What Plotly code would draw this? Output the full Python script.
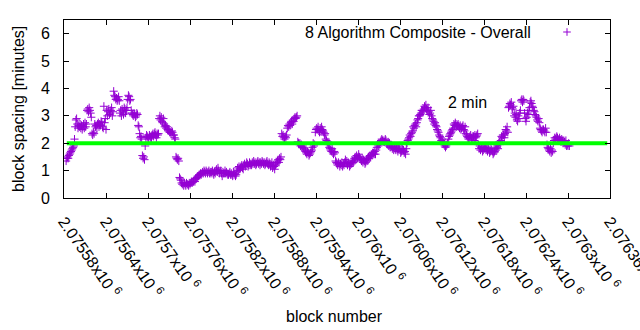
import plotly.graph_objects as go

# ---------------- data ----------------
first_block = 2075583          # one sample per consecutive block
spacing_minutes = [
    1.35, 1.45, 1.5, 1.45, 1.55, 1.6, 1.65, 1.7, 1.75, 1.8, 1.85,
    1.9, 2.15, 2.6, 2.85, 2.9, 2.7, 2.55, 2.65, 2.6, 2.7, 2.55, 2.65, 2.5, 2.6,
    2.7, 2.55, 2.75, 2.6, 2.7, 3.2, 3.25, 3.15, 3.3, 3.2, 3.1, 2.95, 2.35, 2.3, 2.4,
    2.35, 2.7, 2.6, 2.65, 2.55, 2.7, 2.75, 2.6, 2.7, 2.65, 2.8, 2.75, 2.6, 2.55,
    3.35, 2.75, 2.9, 2.5, 3.2, 3.0, 3.15, 3.25, 3.05, 3.1, 3.2, 3.3, 3.0, 3.15,
    3.9, 3.75, 3.7, 3.6, 3.65, 3.55, 3.6, 3.7, 3.55, 3.1, 3.2, 3.0, 3.25, 3.15, 3.05,
    3.3, 3.25, 3.1, 3.2, 3.3, 3.6, 3.75, 3.7, 3.55, 3.6, 3.2, 3.1, 3.05, 3.0,
    3.1, 3.05, 2.95, 3.0, 3.1, 3.05, 2.65, 2.6, 2.35, 2.2, 2.25, 2.15, 1.55, 1.45,
    1.5, 1.4, 1.9, 2.2, 2.3, 2.25, 2.2, 2.15, 2.3, 2.25, 2.2, 2.2, 2.3, 2.35, 2.25,
    2.35, 2.4, 2.3, 2.2, 2.35, 2.3, 2.35, 2.9, 3.0, 2.85, 2.95, 2.8, 2.75, 2.9,
    2.7, 2.6, 2.65, 2.55, 2.6, 2.5, 2.45, 2.5, 2.4, 2.4, 2.35, 2.45, 2.4, 2.3,
    2.3, 2.2, 2.15, 1.5, 1.45, 1.4, 1.45, 1.35, 0.75, 0.7, 0.65, 0.55, 0.5, 0.55,
    0.45, 0.55, 0.5, 0.45, 0.55, 0.5, 0.5, 0.45, 0.55, 0.5, 0.55, 0.6, 0.55, 0.6, 0.6,
    0.65, 0.6, 0.7, 0.7, 0.75, 0.8, 0.8, 0.85, 0.85, 0.9, 0.85, 0.9, 0.95, 0.9,
    1.0, 0.95, 0.9, 1.0, 0.95, 0.9, 0.95, 1.0, 0.9, 0.95, 0.9, 0.95, 1.0, 0.9,
    0.85, 0.95, 0.9, 1.0, 1.05, 0.95, 1.1, 1.0, 0.9, 0.95, 1.0, 0.9, 0.8, 0.95, 0.9,
    0.9, 1.0, 0.9, 0.95, 0.9, 0.85, 0.85, 0.9, 0.95, 0.85, 0.9, 0.85, 0.8, 0.95,
    0.85, 0.9, 0.8, 0.85, 0.95, 1.1, 1.0, 1.15, 1.05, 1.1, 1.15, 1.2, 1.1, 1.05,
    1.2, 1.25, 1.15, 1.2, 1.3, 1.25, 1.15, 1.2, 1.3, 1.2, 1.25, 1.2, 1.3, 1.25,
    1.35, 1.25, 1.3, 1.2, 1.25, 1.3, 1.35, 1.25, 1.3, 1.2, 1.3, 1.25, 1.35, 1.3, 1.25,
    1.3, 1.2, 1.25, 1.3, 1.35, 1.25, 1.2, 1.3, 1.25, 1.15, 1.2, 1.3, 1.1, 1.2,
    1.15, 1.05, 1.2, 1.25, 1.3, 1.35, 1.4, 1.3, 1.45, 1.4, 1.5, 2.35, 2.25, 2.3,
    2.2, 2.15, 2.25, 2.2, 2.3, 2.55, 2.65, 2.6, 2.7, 2.65, 2.75, 2.8, 2.7, 2.85,
    2.8, 2.9, 2.95, 2.9, 2.95, 3.0, 2.05, 2.0, 1.95, 2.0, 1.9, 1.95, 1.85, 1.9, 1.85,
    1.8, 1.75, 1.7, 1.65, 1.6, 1.7, 1.65, 1.55, 1.6, 1.65, 1.7, 1.75, 1.85, 2.0,
    1.9, 1.95, 2.4, 2.5, 2.55, 2.5, 2.6, 2.45, 2.4, 2.55, 2.45, 2.6, 2.5, 2.45,
    2.4, 2.3, 2.35, 2.15, 2.1, 2.0, 2.05, 1.95, 1.85, 1.8, 1.75, 1.7, 1.8, 1.65,
    1.6, 1.7, 1.65, 1.35, 1.3, 1.25, 1.2, 1.3, 1.25, 1.15, 1.25, 1.2, 1.3, 1.15, 1.25,
    1.2, 1.3, 1.4, 1.25, 1.35, 1.2, 1.3, 1.25, 1.15, 1.2, 1.3, 1.25, 1.35, 1.3,
    1.35, 1.45, 1.5, 1.4, 1.55, 1.45, 1.5, 1.6, 1.5, 1.45, 1.4, 1.35, 1.45, 1.3,
    1.4, 1.35, 1.25, 1.3, 1.4, 1.35, 1.45, 1.5, 1.45, 1.55, 1.5, 1.6, 1.55, 1.65,
    1.65, 1.6, 1.7, 1.6, 1.75, 1.85, 1.95, 1.9, 2.0, 1.95, 2.05, 2.1, 2.15, 2.1, 2.05,
    2.1, 2.05, 2.15, 2.1, 2.0, 1.95, 2.05, 1.9, 2.0, 1.85, 1.95, 1.9, 1.8, 1.85,
    1.75, 1.9, 1.8, 1.75, 1.85, 1.8, 1.7, 1.8, 1.9, 1.75, 1.65, 1.7, 1.8, 1.75,
    1.75, 1.65, 1.7, 1.6, 1.8, 2.0, 2.1, 2.15, 2.2, 2.3, 2.25, 2.35, 2.4, 2.45,
    2.6, 2.55, 2.65, 2.7, 2.6, 2.75, 2.85, 2.9, 3.0, 3.0, 3.05, 3.1, 3.2, 3.2, 3.15,
    3.25, 3.35, 3.3, 3.4, 3.25, 3.2, 3.3, 3.15, 3.05, 3.1, 3.2, 3.0, 2.9, 2.85,
    2.8, 2.7, 2.75, 2.65, 2.6, 2.5, 2.45, 2.4, 2.3, 2.25, 2.2, 2.1, 2.15, 2.05,
    2.0, 1.95, 1.9, 1.85, 1.9, 1.95, 2.0, 2.15, 2.25, 2.3, 2.35, 2.4, 2.45, 2.5,
    2.55, 2.7, 2.65, 2.75, 2.7, 2.6, 2.65, 2.7, 2.6, 2.55, 2.65, 2.5, 2.55, 2.6, 2.65,
    2.5, 2.45, 2.6, 2.35, 2.3, 2.25, 2.2, 2.15, 2.2, 2.25, 2.3, 2.2, 2.15, 2.25,
    2.25, 2.1, 2.3, 2.2, 2.25, 2.3, 2.35, 1.95, 1.8, 1.9, 1.75, 1.85, 1.8, 1.7,
    1.75, 1.85, 1.8, 1.9, 1.75, 1.85, 1.7, 1.8, 1.75, 1.65, 1.7, 1.8, 1.75, 1.7,
    1.6, 1.65, 1.7, 1.8, 1.75, 1.85, 1.9, 1.8, 2.0, 2.05, 1.95, 2.1, 2.25, 2.2, 2.3,
    2.3, 2.2, 2.35, 2.5, 2.45, 2.6, 2.4, 3.3, 3.35, 3.45, 3.4, 3.5, 3.3, 3.25,
    3.35, 3.0, 3.1, 2.95, 3.05, 2.85, 2.8, 3.0, 2.9, 3.1, 3.2, 3.55, 3.6, 3.5,
    3.6, 3.55, 3.1, 2.9, 2.8, 2.95, 3.1, 3.2, 3.05, 3.3, 3.5, 3.55, 3.45, 3.35,
    3.3, 3.2, 3.15, 3.05, 3.0, 2.95, 2.85, 2.8, 2.9, 2.75, 2.55, 2.5, 2.45, 2.4, 2.5,
    2.5, 2.45, 2.4, 2.55, 2.4, 1.95, 1.85, 1.8, 1.75, 1.7, 1.8, 1.65, 1.75, 1.7,
    2.0, 2.1, 2.2, 2.15, 2.2, 2.25, 2.2, 2.1, 2.15, 2.2, 2.1, 2.05, 2.15, 2.1,
    2.0, 2.1, 2.05, 1.95, 2.1, 1.9, 1.95, 1.9, 2.0, 1.9,
]
blocks = list(range(first_block, first_block + len(spacing_minutes)))

target_minutes = 2
target_line_blocks = [2075584, 2076356]
target_label = "2 min"
target_label_pos = (2076126, 3.5)

series_name = "8 Algorithm Composite - Overall"

x_range = [2075580, 2076360]
y_range = [0, 6.5]
tick_blocks = [2075580, 2075640, 2075700, 2075760, 2075820, 2075880, 2075940,
               2076000, 2076060, 2076120, 2076180, 2076240, 2076300, 2076360]
tick_mantissas = ["2.07558", "2.07564", "2.0757", "2.07576", "2.07582", "2.07588",
                  "2.07594", "2.076", "2.07606", "2.07612", "2.07618", "2.07624",
                  "2.0763", "2.07636"]
y_ticks = [0, 1, 2, 3, 4, 5, 6]

# ---------------- figure ----------------
FONT = "Liberation Sans, Arial, sans-serif"
PURPLE = "#9400D3"
GREEN = "#00FF00"

fig = go.Figure()
fig.add_trace(go.Scatter(
    x=blocks, y=spacing_minutes, mode="markers", name=series_name,
    marker=dict(symbol="cross-thin", size=5.8, color=PURPLE,
                line=dict(color=PURPLE, width=1)),
    showlegend=False, cliponaxis=True,
))
fig.add_trace(go.Scatter(
    x=target_line_blocks, y=[target_minutes, target_minutes], mode="lines",
    line=dict(color=GREEN, width=4), showlegend=False,
))

L, R, T, B = 64, 30, 20, 132
W, H = 640, 330
pw, ph = W - L - R, H - T - B

def px_x(px):
    return (px - L) / pw

def px_y(py):
    return (H - B - py) / ph

tick_text = [m + "x10 <sup>6</sup>" for m in tick_mantissas]

fig.update_layout(
    width=W, height=H,
    margin=dict(l=L, r=R, t=T, b=B),
    paper_bgcolor="white", plot_bgcolor="white",
    font=dict(family=FONT, size=16, color="#000000"),
    xaxis=dict(
        range=x_range, tickmode="array", tickvals=tick_blocks, ticktext=tick_text,
        tickangle=55, ticks="inside", ticklen=5, tickcolor="black",
        showline=True, linecolor="black", linewidth=1, mirror="ticks",
        showgrid=False, zeroline=False, automargin=False,
        ticklabelstandoff=7, ticklabeloverflow="allow", tickfont=dict(size=16),
    ),
    yaxis=dict(
        range=y_range, tickmode="array", tickvals=y_ticks,
        ticks="inside", ticklen=5, tickcolor="black",
        showline=True, linecolor="black", linewidth=1, mirror="ticks",
        showgrid=False, zeroline=False, automargin=False,
        ticklabelstandoff=10, tickfont=dict(size=16),
    ),
    annotations=[
        dict(text=target_label, x=target_label_pos[0], y=target_label_pos[1],
             xref="x", yref="y", xanchor="left", yanchor="middle",
             showarrow=False, font=dict(size=16)),
        dict(text=series_name, x=px_x(533), y=px_y(32), xref="paper", yref="paper",
             xanchor="right", yanchor="middle", showarrow=False, font=dict(size=16)),
        dict(text="block spacing [minutes]", x=px_x(18), y=0.5, xref="paper",
             yref="paper", textangle=-90, xanchor="center", yanchor="middle",
             showarrow=False, font=dict(size=16)),
        dict(text="block number", x=px_x(334), y=px_y(316), xref="paper",
             yref="paper", xanchor="center", yanchor="middle", showarrow=False,
             font=dict(size=16)),
    ],
    shapes=[
        dict(type="line", xref="paper", yref="paper",
             x0=px_x(563.2), x1=px_x(570.8), y0=px_y(32), y1=px_y(32),
             line=dict(color=PURPLE, width=1)),
        dict(type="line", xref="paper", yref="paper",
             x0=px_x(567), x1=px_x(567), y0=px_y(28.2), y1=px_y(35.8),
             line=dict(color=PURPLE, width=1)),
    ],
)

fig.write_html("out.html")
